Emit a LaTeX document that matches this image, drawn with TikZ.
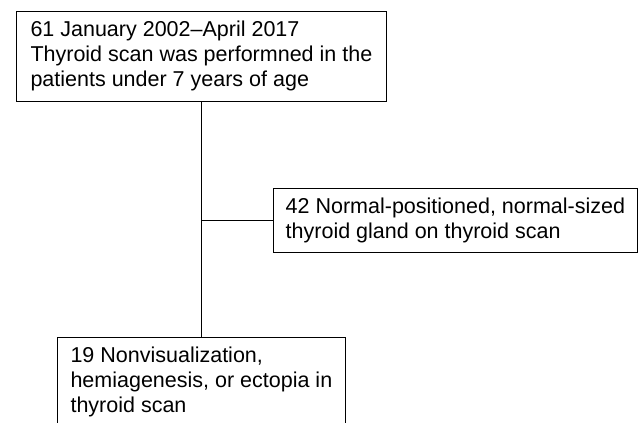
\documentclass[tikz,border=0pt]{standalone}
\usepackage{fontspec}
\setmainfont{Liberation Sans}
\tikzset{
  every picture/.style={
    line width=0.8bp,
    x=1bp, y=-1bp
  },
  box/.style={
    draw, rectangle, align=left,
    anchor=north west, inner sep=0pt,
    font=\fontsize{21.5bp}{25bp}\selectfont
  }
}

\begin{document}
\begin{tikzpicture}
      \useasboundingbox (0,0) rectangle (640,422);
      \clip (0,0) rectangle (640,422);
      \node [box,minimum width=370bp,minimum height=90bp] (scan) at (16,11)
        {61 January 2002--April 2017\\Thyroid scan was performned in the\\patients under 7 years of age};
      \node [box,minimum width=364bp,minimum height=64bp] (normal) at (273,188)
        {42 Normal-positioned, normal-sized\\thyroid gland on thyroid scan};
      \node [box,minimum width=288bp,minimum height=90bp] (abnormal) at (57,337)
        {19 Nonvisualization,\\hemiagenesis, or ectopia in\\thyroid scan};
      \draw (scan.south) -- (abnormal.north);
      \draw (scan.south |- normal.west) -- (normal.west);
    \end{tikzpicture}
\end{document}
